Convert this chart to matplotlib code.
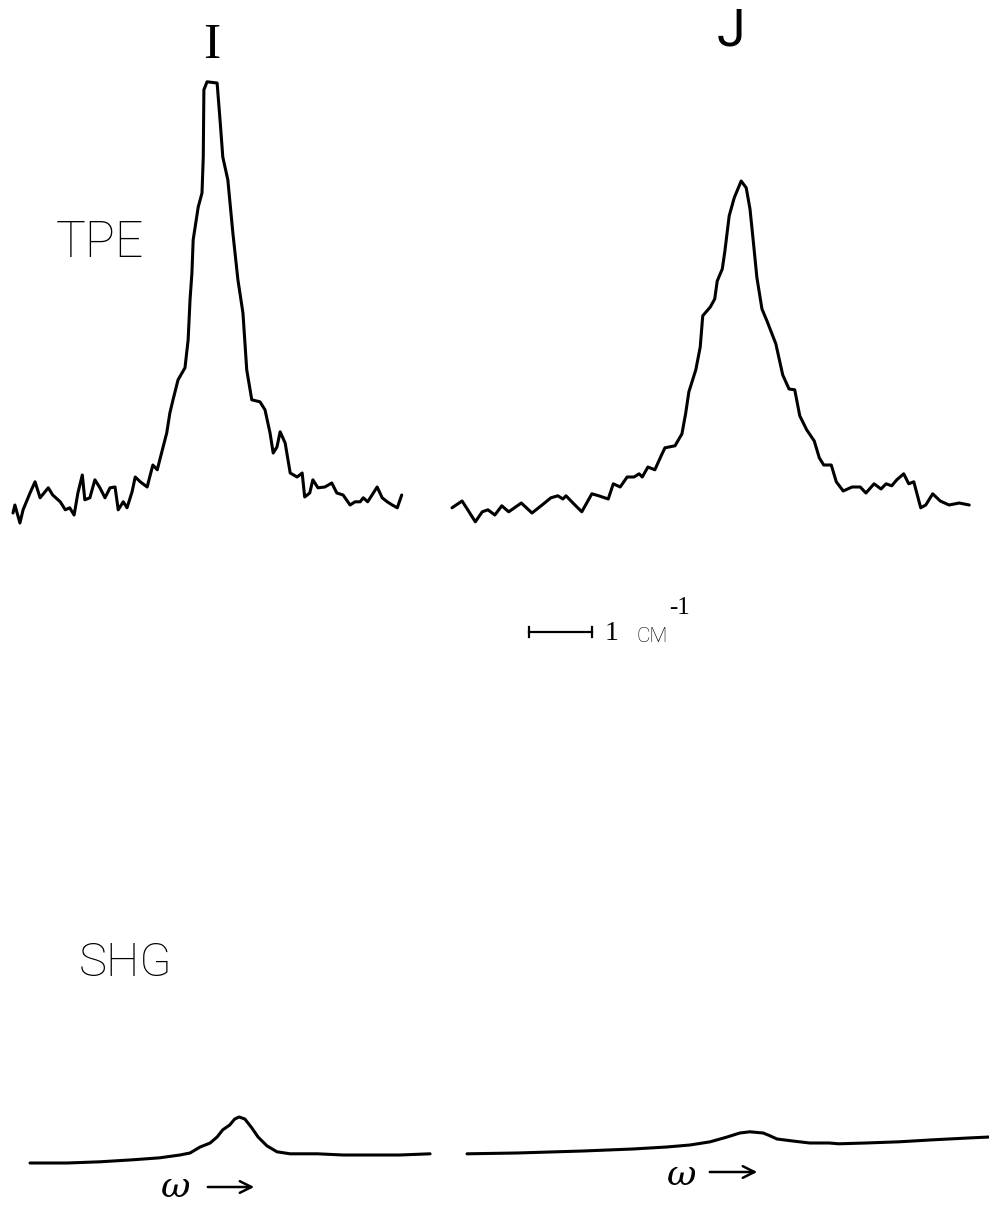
import numpy as np
import matplotlib
matplotlib.use("Agg")
import matplotlib.pyplot as plt

# TPE trace I  (x: cm^-1 from start of scan, y: signal in arb. units)
tpe_i_x = [0.00, 0.03, 0.11, 0.16, 0.27, 0.35, 0.43, 0.56, 0.63, 0.75, 0.83, 0.90, 0.97, 1.03, 1.10,
           1.14, 1.22, 1.30, 1.38, 1.46, 1.54, 1.62, 1.67, 1.75, 1.81, 1.89, 1.94, 2.02, 2.13, 2.17,
           2.22, 2.29, 2.33, 2.44, 2.49, 2.54, 2.62, 2.73, 2.78, 2.81, 2.84, 2.86, 2.94, 3.00, 3.02,
           3.03, 3.08, 3.24, 3.29, 3.33, 3.41, 3.49, 3.57, 3.65, 3.71, 3.79, 3.92, 4.00, 4.08, 4.13,
           4.19, 4.24, 4.32, 4.40, 4.51, 4.59, 4.63, 4.71, 4.76, 4.84, 4.95, 5.06, 5.14, 5.24, 5.35,
           5.43, 5.51, 5.56, 5.63, 5.78, 5.86, 5.94, 6.02, 6.10, 6.17]
tpe_i_y = [3.0, 5.0, 0.5, 3.8, 8.0, 10.8, 6.8, 9.3, 7.5, 5.8, 3.8, 4.3, 2.5, 8.0, 12.5,
           6.3, 6.8, 11.3, 9.3, 6.8, 9.3, 9.5, 3.8, 5.8, 4.3, 8.3, 12.0, 10.8, 9.5, 12.0,
           15.0, 13.8, 16.3, 23.0, 28.0, 31.3, 36.3, 39.3, 46.3, 56.3, 63.0, 71.3, 79.5, 83.0, 92.0,
           108.8, 110.8, 110.5, 100.5, 92.0, 86.3, 73.0, 61.3, 53.0, 38.8, 31.3, 30.8, 28.8, 23.0, 18.0,
           19.5, 23.3, 20.5, 13.0, 12.0, 13.0, 7.0, 8.0, 11.3, 9.3, 9.5, 10.5, 8.0, 7.5, 5.0,
           5.8, 5.8, 6.8, 5.8, 9.5, 6.8, 5.8, 5.0, 4.3, 7.5]

# TPE trace J
tpe_j_x = [0.00, 0.16, 0.25, 0.37, 0.48, 0.57, 0.68, 0.79, 0.90, 1.10, 1.27, 1.43, 1.57, 1.68, 1.76,
           1.81, 1.92, 2.06, 2.22, 2.33, 2.48, 2.56, 2.67, 2.78, 2.89, 2.97, 3.02, 3.11, 3.22, 3.32,
           3.38, 3.54, 3.65, 3.71, 3.76, 3.87, 3.94, 3.98, 4.10, 4.17, 4.21, 4.29, 4.33, 4.40, 4.48,
           4.59, 4.67, 4.73, 4.78, 4.84, 4.92, 5.00, 5.14, 5.25, 5.35, 5.44, 5.52, 5.63, 5.75, 5.83,
           5.90, 6.02, 6.10, 6.21, 6.35, 6.48, 6.57, 6.70, 6.81, 6.89, 6.98, 7.06, 7.17, 7.25, 7.33,
           7.44, 7.52, 7.63, 7.75, 7.89, 8.05, 8.21]
tpe_j_y = [4.3, 6.0, 3.8, 0.8, 3.3, 3.8, 2.5, 4.8, 3.3, 5.5, 3.0, 5.0, 6.8, 7.3, 6.5,
           7.3, 5.5, 3.3, 7.8, 7.3, 6.5, 10.3, 9.5, 12.0, 12.0, 12.8, 12.0, 14.5, 13.8, 17.3,
           19.3, 19.8, 22.8, 28.0, 33.3, 38.8, 44.5, 52.3, 54.5, 56.5, 61.0, 64.0, 68.3, 77.3, 81.8,
           86.0, 84.3, 79.0, 71.3, 61.8, 54.0, 51.0, 45.3, 37.5, 34.0, 33.8, 27.3, 23.8, 21.0, 16.8,
           15.0, 15.0, 10.8, 8.5, 9.5, 9.5, 8.0, 10.3, 9.0, 10.3, 9.8, 11.3, 12.8, 10.3, 10.8,
           4.3, 5.0, 7.8, 6.0, 5.0, 5.5, 5.0]

# SHG traces
shg_i_x = [0.00, 0.59, 1.11, 1.63, 2.06, 2.38, 2.54, 2.70, 2.86, 2.97, 3.06, 3.17, 3.25, 3.32,
           3.41, 3.52, 3.62, 3.76, 3.92, 4.13, 4.56, 4.97, 5.35, 5.87, 6.35]
shg_i_y = [0.5, 0.5, 0.8, 1.3, 1.8, 2.5, 3.0, 4.5, 5.5, 7.0, 8.8, 10.0, 11.5, 12.0,
           11.5, 9.3, 7.0, 4.8, 3.3, 2.8, 2.8, 2.5, 2.5, 2.5, 2.8]

shg_j_x = [0.00, 0.79, 1.84, 2.63, 3.17, 3.54, 3.86, 4.13, 4.33, 4.49, 4.70, 4.81, 4.92, 5.17,
           5.44, 5.75, 5.90, 6.33, 6.86, 7.40, 8.02, 8.29]
shg_j_y = [2.8, 3.0, 3.5, 4.0, 4.5, 5.0, 5.8, 7.0, 8.0, 8.3, 8.0, 7.3, 6.5, 6.0,
           5.5, 5.5, 5.3, 5.5, 5.8, 6.3, 6.8, 7.0]

W, H = 989, 1205
PX_PER_CM = 63.0   # horizontal scale (from the 1 cm^-1 bar)
PX_PER_UNIT = 4.0  # vertical scale


def panel(fig, left_px, base_px):
    '''Overlay axes over the whole figure with data origin at (left_px, base_px).'''
    ax = fig.add_axes([0, 0, 1, 1])
    ax.set_xlim(-left_px / PX_PER_CM, (W - left_px) / PX_PER_CM)
    ax.set_ylim(-(H - base_px) / PX_PER_UNIT, base_px / PX_PER_UNIT)
    ax.set_axis_off()
    ax.patch.set_alpha(0)
    return ax


def ftext(fig, x, y, s, **kw):
    fig.text(x / W, 1 - y / H, s, ha='center', va='center', **kw)


fig = plt.figure(figsize=(W / 100, H / 100), dpi=100)
fig.patch.set_facecolor('white')

line_kw = dict(color='black', lw=2.2, solid_joinstyle='round', solid_capstyle='round')

ax_i = panel(fig, 13, 525)
ax_i.plot(tpe_i_x, tpe_i_y, **line_kw)
ax_j = panel(fig, 452, 525)
ax_j.plot(tpe_j_x, tpe_j_y, **line_kw)

ax_si = panel(fig, 30, 1165)
ax_si.plot(shg_i_x, shg_i_y, **line_kw)
ax_sj = panel(fig, 467, 1165)
ax_sj.plot(shg_j_x, shg_j_y, **line_kw)

# 1 cm^-1 scale bar, drawn in the J panel's own units
bar_y = (525 - 632) / PX_PER_UNIT
bar_x0 = (529 - 452) / PX_PER_CM
ax_j.plot([bar_x0, bar_x0 + 1.0], [bar_y, bar_y], color='black', lw=1.6, clip_on=False)
for bx in (bar_x0, bar_x0 + 1.0):
    ax_j.plot([bx, bx], [bar_y - 1.3, bar_y + 1.3], color='black', lw=1.6, clip_on=False)

thin = dict(family=['Roboto', 'DejaVu Sans'], fontweight='light', color='black')
serif = dict(family=['Liberation Serif', 'DejaVu Serif'], color='black')
ftext(fig, 212, 46, 'I', fontsize=37, **serif)
ftext(fig, 731, 31, 'J', fontsize=37, family=['Roboto', 'DejaVu Sans'], color='black')
ftext(fig, 100, 243, 'TPE', fontsize=36, **thin)
ftext(fig, 126, 963, 'SHG', fontsize=34, **thin)

ftext(fig, 612, 633, '1', fontsize=20, **serif)
ftext(fig, 652, 637, 'CM', fontsize=15, **thin)
ftext(fig, 680, 608, '-1', fontsize=18, **serif)

# omega labels with arrows
for (wx, wy, ax0, ax1, ay) in [(176, 1187, 205, 257, 1187), (682, 1175, 707, 760, 1172)]:
    ftext(fig, wx, wy, '\u03c9', fontsize=26, style='italic',
          family=['DejaVu Serif'], color='black')
    fig.add_artist(matplotlib.patches.FancyArrowPatch(
        (ax0 / W, 1 - ay / H), (ax1 / W, 1 - ay / H), transform=fig.transFigure,
        arrowstyle='->,head_length=0.6,head_width=0.3', lw=1.8, color='black',
        mutation_scale=14))

fig.savefig('out.png', dpi=100, facecolor='white')
